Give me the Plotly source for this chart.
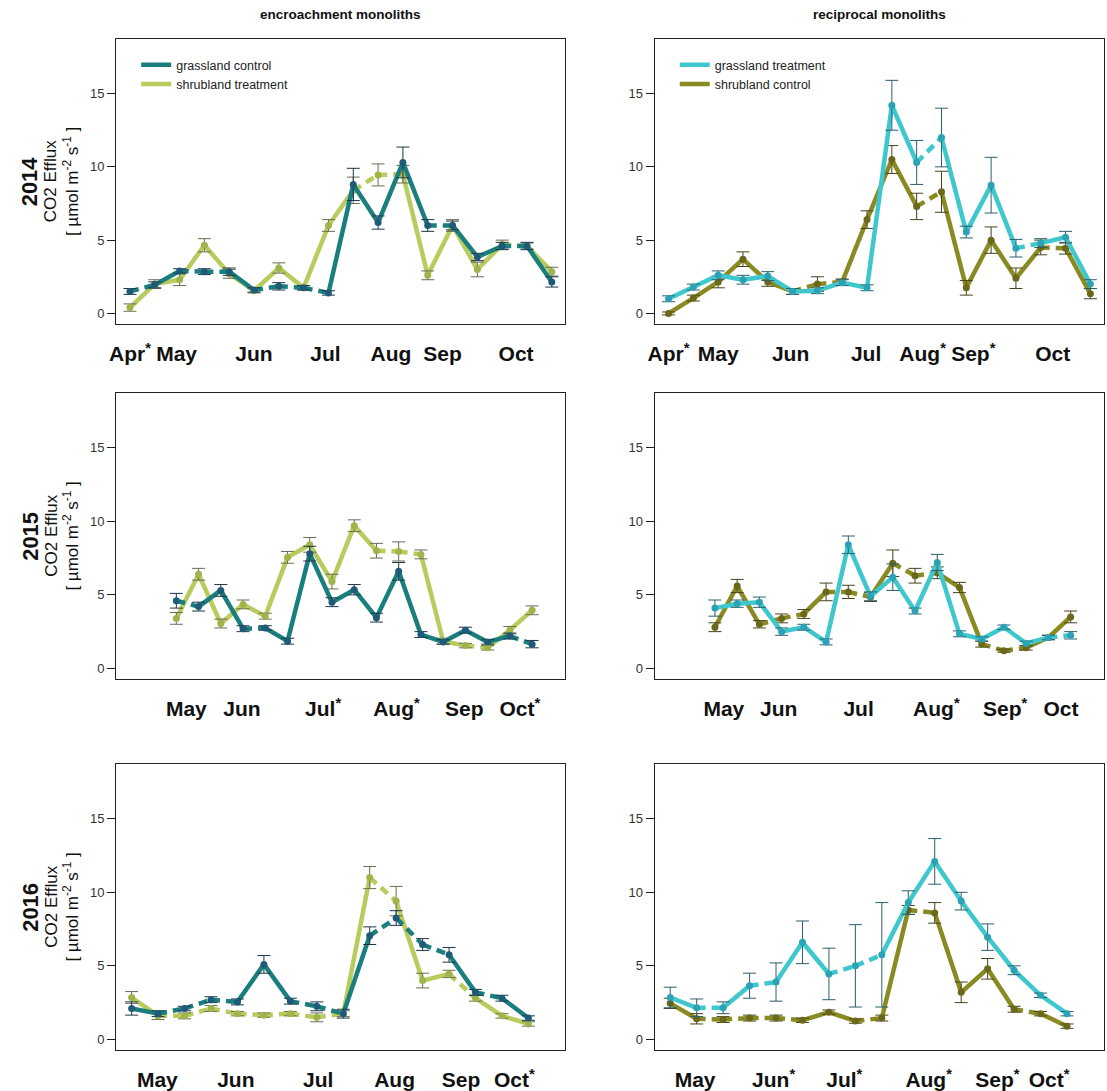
import plotly.graph_objects as go

# ---------------------------------------------------------------------------
# Soil CO2 efflux (µmol m-2 s-1): mean and standard error per sampling date
#   gc = grassland control,   st = shrubland treatment  (encroachment monoliths)
#   gt = grassland treatment, sc = shrubland control    (reciprocal monoliths)
# ---------------------------------------------------------------------------

# 2014
gc_2014 = [1.5, 1.95, 2.9, 2.85, 2.85, 1.6, 1.85, 1.75, 1.4, 8.8, 6.2, 10.3, 6.0, 6.0, 3.85, 4.6, 4.6, 2.15]
gc_2014_se = [0.2, 0.2, 0.15, 0.2, 0.25, 0.15, 0.25, 0.15, 0.15, 1.1, 0.45, 1.05, 0.4, 0.3, 0.25, 0.25, 0.25, 0.35]
st_2014 = [0.4, 2.0, 2.3, 4.65, 2.7, 1.55, 3.1, 1.75, 6.0, 8.4, 9.45, 9.5, 2.6, 6.0, 3.0, 4.7, 4.6, 2.85]
st_2014_se = [0.25, 0.3, 0.4, 0.45, 0.3, 0.15, 0.35, 0.15, 0.4, 0.9, 0.75, 0.6, 0.3, 0.4, 0.5, 0.3, 0.2, 0.3]
gt_2014 = [1.0, 1.8, 2.6, 2.3, 2.55, 1.5, 1.55, 2.1, 1.75, 14.2, 10.3, 12.0, 5.55, 8.75, 4.45, 4.8, 5.2, 2.0]
gt_2014_se = [0.2, 0.2, 0.3, 0.3, 0.3, 0.2, 0.2, 0.2, 0.2, 1.7, 1.5, 2.0, 0.4, 1.9, 0.6, 0.3, 0.4, 0.3]
sc_2014 = [0.0, 1.05, 2.15, 3.7, 2.15, 1.5, 2.0, 2.15, 6.4, 10.5, 7.3, 8.3, 1.75, 5.0, 2.4, 4.5, 4.45, 1.35]
sc_2014_se = [0.1, 0.2, 0.4, 0.5, 0.3, 0.2, 0.5, 0.2, 0.6, 0.95, 0.9, 1.4, 0.5, 0.9, 0.7, 0.5, 0.4, 0.35]

# 2015
gc_2015 = [4.6, 4.2, 5.3, 2.7, 2.75, 1.85, 7.8, 4.5, 5.35, 3.45, 6.6, 2.3, 1.8, 2.6, 1.8, 2.2, 1.65]
gc_2015_se = [0.5, 0.3, 0.4, 0.2, 0.15, 0.2, 0.5, 0.3, 0.35, 0.3, 0.6, 0.2, 0.15, 0.2, 0.15, 0.2, 0.25]
st_2015 = [3.4, 6.4, 3.05, 4.35, 3.55, 7.55, 8.4, 5.9, 9.7, 8.0, 7.95, 7.75, 1.85, 1.55, 1.4, 2.6, 3.95]
st_2015_se = [0.4, 0.4, 0.3, 0.3, 0.2, 0.4, 0.5, 0.5, 0.4, 0.5, 0.65, 0.3, 0.2, 0.15, 0.15, 0.25, 0.3]
gt_2015 = [4.1, 4.4, 4.5, 2.5, 2.8, 1.8, 8.4, 4.9, 6.2, 3.9, 7.2, 2.35, 2.0, 2.8, 1.7, 2.1, 2.25]
gt_2015_se = [0.55, 0.25, 0.35, 0.25, 0.2, 0.2, 0.6, 0.3, 0.9, 0.2, 0.55, 0.2, 0.15, 0.15, 0.15, 0.15, 0.25]
sc_2015 = [2.8, 5.6, 3.0, 3.4, 3.7, 5.2, 5.2, 4.85, 7.15, 6.3, 6.5, 5.5, 1.65, 1.2, 1.4, 2.1, 3.5]
sc_2015_se = [0.3, 0.45, 0.25, 0.3, 0.3, 0.6, 0.45, 0.3, 0.9, 0.5, 0.4, 0.35, 0.2, 0.1, 0.15, 0.15, 0.4]

# 2016
gc_2016 = [2.1, 1.75, 2.1, 2.7, 2.55, 5.1, 2.6, 2.25, 1.75, 7.05, 8.25, 6.45, 5.75, 3.2, 2.8, 1.45]
gc_2016_se = [0.45, 0.2, 0.15, 0.2, 0.2, 0.6, 0.2, 0.3, 0.3, 0.6, 0.5, 0.4, 0.5, 0.2, 0.2, 0.15]
st_2016 = [2.85, 1.6, 1.6, 2.1, 1.75, 1.65, 1.75, 1.5, 1.75, 11.0, 9.4, 4.0, 4.45, 2.8, 1.6, 1.05]
st_2016_se = [0.4, 0.25, 0.2, 0.2, 0.15, 0.15, 0.15, 0.3, 0.2, 0.75, 1.0, 0.5, 0.25, 0.2, 0.15, 0.15]
gt_2016 = [2.85, 2.15, 2.15, 3.65, 3.9, 6.6, 4.45, 5.0, 5.75, 9.3, 12.1, 9.4, 6.95, 4.7, 3.0, 1.75]
gt_2016_se = [0.7, 0.6, 0.4, 0.85, 1.3, 1.45, 1.75, 2.8, 3.55, 0.8, 1.55, 0.6, 0.9, 0.3, 0.15, 0.15]
sc_2016 = [2.45, 1.4, 1.35, 1.45, 1.45, 1.3, 1.85, 1.25, 1.45, 8.8, 8.6, 3.2, 4.8, 2.05, 1.75, 0.9]
sc_2016_se = [0.35, 0.35, 0.2, 0.2, 0.2, 0.15, 0.15, 0.15, 0.2, 0.3, 0.7, 0.7, 0.7, 0.2, 0.15, 0.15]

# Month labels and their place along each sampling sequence
months_enc_2014 = ["Apr*", "May", "Jun", "Jul", "Aug", "Sep", "Oct"]
month_at_enc_2014 = [1.0, 2.88, 6.0, 8.88, 11.52, 13.6, 16.56]
months_rec_2014 = ["Apr*", "May", "Jun", "Jul", "Aug*", "Sep*", "Oct"]
month_at_rec_2014 = [1.0, 3.0, 5.92, 8.96, 11.24, 13.28, 16.48]
months_enc_2015 = ["May", "Jun", "Jul*", "Aug*", "Sep", "Oct*"]
month_at_enc_2015 = [1.45, 3.95, 7.6, 10.9, 13.95, 16.45]
months_rec_2015 = ["May", "Jun", "Jul", "Aug*", "Sep*", "Oct"]
month_at_rec_2015 = [1.4, 3.87, 7.46, 10.96, 14.05, 16.56]
months_enc_2016 = ["May", "Jun", "Jul", "Aug", "Sep", "Oct*"]
month_at_enc_2016 = [1.97, 4.94, 8.05, 10.94, 13.45, 15.47]
months_rec_2016 = ["May", "Jun*", "Jul*", "Aug*", "Sep*", "Oct*"]
month_at_rec_2016 = [1.94, 4.91, 7.58, 10.77, 13.37, 15.32]

# Line pattern between consecutive dates (1 = dashed segment, 0 = solid)
seg_gc_2014 = [1, 0, 1, 1, 0, 1, 1, 1, 0, 0, 0, 0, 1, 0, 0, 1, 0]
seg_st_2014 = [0, 0, 0, 0, 0, 0, 0, 0, 0, 1, 1, 0, 0, 0, 0, 1, 0]
seg_gt_2014 = [0, 0, 0, 0, 0, 0, 0, 0, 0, 0, 1, 0, 0, 0, 1, 0, 0]
seg_sc_2014 = [0, 0, 0, 0, 0, 1, 1, 0, 0, 0, 1, 0, 0, 0, 0, 1, 0]
seg_gc_2015 = [1, 0, 0, 1, 0, 0, 0, 0, 0, 0, 0, 0, 0, 0, 0, 1]
seg_st_2015 = [0, 0, 0, 0, 0, 0, 0, 0, 0, 1, 1, 0, 0, 1, 0, 0]
seg_gt_2015 = [0, 0, 0, 0, 0, 0, 0, 0, 0, 0, 0, 0, 0, 0, 0, 1]
seg_sc_2015 = [0, 0, 1, 1, 0, 1, 1, 0, 1, 1, 0, 0, 1, 1, 0, 0]
seg_gc_2016 = [0, 1, 1, 1, 0, 0, 1, 1, 0, 1, 1, 1, 0, 1, 0]
seg_st_2016 = [0, 1, 1, 1, 1, 1, 1, 1, 0, 1, 0, 0, 1, 0, 0]
seg_gt_2016 = [0, 1, 0, 1, 0, 0, 1, 1, 0, 0, 0, 0, 0, 0, 0]
seg_sc_2016 = [0, 1, 1, 1, 1, 0, 0, 1, 0, 1, 0, 0, 0, 1, 0]

years = ["2014", "2015", "2016"]
column_titles = ["encroachment monoliths", "reciprocal monoliths"]
y_ticks = [0, 5, 10, 15]

# ---------------------------------------------------------------------------
# Styling
# ---------------------------------------------------------------------------
W, H = 1107, 1091
FONT = "Liberation Sans, Arial, sans-serif"

STYLE = {
    "gc": dict(name="grassland control", line="#1a7e7e", marker="#1f5b78", err="#1e3546"),
    "st": dict(name="shrubland treatment", line="#b7cc5c", marker="#9db54b", err="#6e6a55"),
    "gt": dict(name="grassland treatment", line="#3ec7cc", marker="#2ca2b6", err="#2c5f6c"),
    "sc": dict(name="shrubland control", line="#8a8a22", marker="#6b681b", err="#47431a"),
}

COL_PX = [(110, 562), (652, 1104)]
ROW_PX = [(39, 324), (393, 679), (764, 1050)]
X_RANGE = {"2014": [0.45, 18.55], "2015": [-1.7, 18.5], "2016": [0.42, 17.4]}
Y_RANGE = [-0.72, 18.72]
LINE_W = 4.5
DASH = "9px,6px"


def fx(px):
    return px / W


def fy(py):
    return 1 - py / H


def star(label):
    return label.replace("*", "<sup>*</sup>")


panels = [
    ("2014", 0, [("st", st_2014, st_2014_se, seg_st_2014), ("gc", gc_2014, gc_2014_se, seg_gc_2014)],
     months_enc_2014, month_at_enc_2014),
    ("2014", 1, [("sc", sc_2014, sc_2014_se, seg_sc_2014), ("gt", gt_2014, gt_2014_se, seg_gt_2014)],
     months_rec_2014, month_at_rec_2014),
    ("2015", 0, [("st", st_2015, st_2015_se, seg_st_2015), ("gc", gc_2015, gc_2015_se, seg_gc_2015)],
     months_enc_2015, month_at_enc_2015),
    ("2015", 1, [("sc", sc_2015, sc_2015_se, seg_sc_2015), ("gt", gt_2015, gt_2015_se, seg_gt_2015)],
     months_rec_2015, month_at_rec_2015),
    ("2016", 0, [("st", st_2016, st_2016_se, seg_st_2016), ("gc", gc_2016, gc_2016_se, seg_gc_2016)],
     months_enc_2016, month_at_enc_2016),
    ("2016", 1, [("sc", sc_2016, sc_2016_se, seg_sc_2016), ("gt", gt_2016, gt_2016_se, seg_gt_2016)],
     months_rec_2016, month_at_rec_2016),
]

fig = go.Figure()
layout = dict(
    width=W, height=H, margin=dict(l=0, r=0, t=0, b=0),
    paper_bgcolor="white", plot_bgcolor="white",
    font=dict(family=FONT, color="#111"),
    showlegend=True,
)


def segments(values, flags, want):
    xs, ys = [], []
    for i, f in enumerate(flags):
        if f == want:
            xs += [i + 1, i + 2, None]
            ys += [values[i], values[i + 1], None]
    return xs, ys


for k, (year, col, series, labels, label_at) in enumerate(panels, start=1):
    row = years.index(year)
    xa, ya = f"x{k}", f"y{k}"
    x0, x1 = COL_PX[col]
    top, bottom = ROW_PX[row]

    for key, mean, se, flags in series:
        st = STYLE[key]
        for want, dash in ((0, "solid"), (1, DASH)):
            xs, ys = segments(mean, flags, want)
            fig.add_trace(go.Scatter(
                x=xs, y=ys, mode="lines", xaxis=xa, yaxis=ya,
                line=dict(color=st["line"], width=LINE_W, dash=dash),
                showlegend=False, hoverinfo="skip"))
        fig.add_trace(go.Scatter(
            x=list(range(1, len(mean) + 1)), y=mean, mode="markers",
            xaxis=xa, yaxis=ya, name=st["name"], showlegend=False,
            marker=dict(color=st["marker"], size=7),
            error_y=dict(type="data", array=se, visible=True,
                         color=st["err"], thickness=1, width=6.5)))

    layout[f"xaxis{k}"] = dict(
        domain=[fx(x0), fx(x1)], range=X_RANGE[year], anchor=ya,
        tickmode="array", tickvals=label_at, ticktext=[star(s) for s in labels],
        ticks="", ticklabelstandoff=11,
        tickfont=dict(family=FONT, size=21, color="#111", weight="bold"),
        showline=True, mirror=True, linecolor="#222", linewidth=1.4,
        showgrid=False, zeroline=False)
    layout[f"yaxis{k}"] = dict(
        domain=[fy(bottom), fy(top)], range=Y_RANGE, anchor=xa,
        tickmode="array", tickvals=y_ticks, ticks="outside", ticklen=8,
        tickwidth=1, tickcolor="#222",
        tickfont=dict(family=FONT, size=13, color="#333"),
        showline=True, mirror=True, linecolor="#222", linewidth=1.4,
        showgrid=False, zeroline=False)

# legend entries (one legend per column of the top row)
for key, leg, ax in (("gc", "legend", ("x1", "y1")), ("st", "legend", ("x1", "y1")),
                     ("gt", "legend2", ("x2", "y2")), ("sc", "legend2", ("x2", "y2"))):
    fig.add_trace(go.Scatter(
        x=[None], y=[None], mode="lines", name=STYLE[key]["name"],
        xaxis=ax[0], yaxis=ax[1], legend=leg,
        line=dict(color=STYLE[key]["line"], width=LINE_W)))

legend_common = dict(
    xanchor="left", yanchor="top", bgcolor="rgba(0,0,0,0)",
    font=dict(family=FONT, size=12.5, color="#222"), tracegroupgap=0,
    itemclick=False, itemdoubleclick=False)
layout["legend"] = dict(x=fx(130), y=fy(50), **legend_common)
layout["legend2"] = dict(x=fx(672), y=fy(50), **legend_common)

annotations = []
for c, title in enumerate(column_titles):
    x0, x1 = COL_PX[c]
    annotations.append(dict(
        text=f"<b>{title}</b>", x=fx((x0 + x1) / 2), y=fy(14), xref="paper", yref="paper",
        xanchor="center", yanchor="middle", showarrow=False,
        font=dict(family=FONT, size=13.5, color="#111")))

for r, year in enumerate(years):
    top, bottom = ROW_PX[r]
    yc = fy((top + bottom) / 2)
    for px, text, size in ((23, f"<b>{year}</b>", 22),
                           (44, "CO2 Efflux", 17),
                           (64, "[ µmol m<sup>-2</sup> s<sup>-1</sup> ]", 17)):
        annotations.append(dict(
            text=text, x=fx(px), y=yc, xref="paper", yref="paper",
            xanchor="center", yanchor="middle", textangle=-90, showarrow=False,
            font=dict(family=FONT, size=size, color="#111")))

layout["annotations"] = annotations
fig.update_layout(**layout)
fig.write_html("out.html")
